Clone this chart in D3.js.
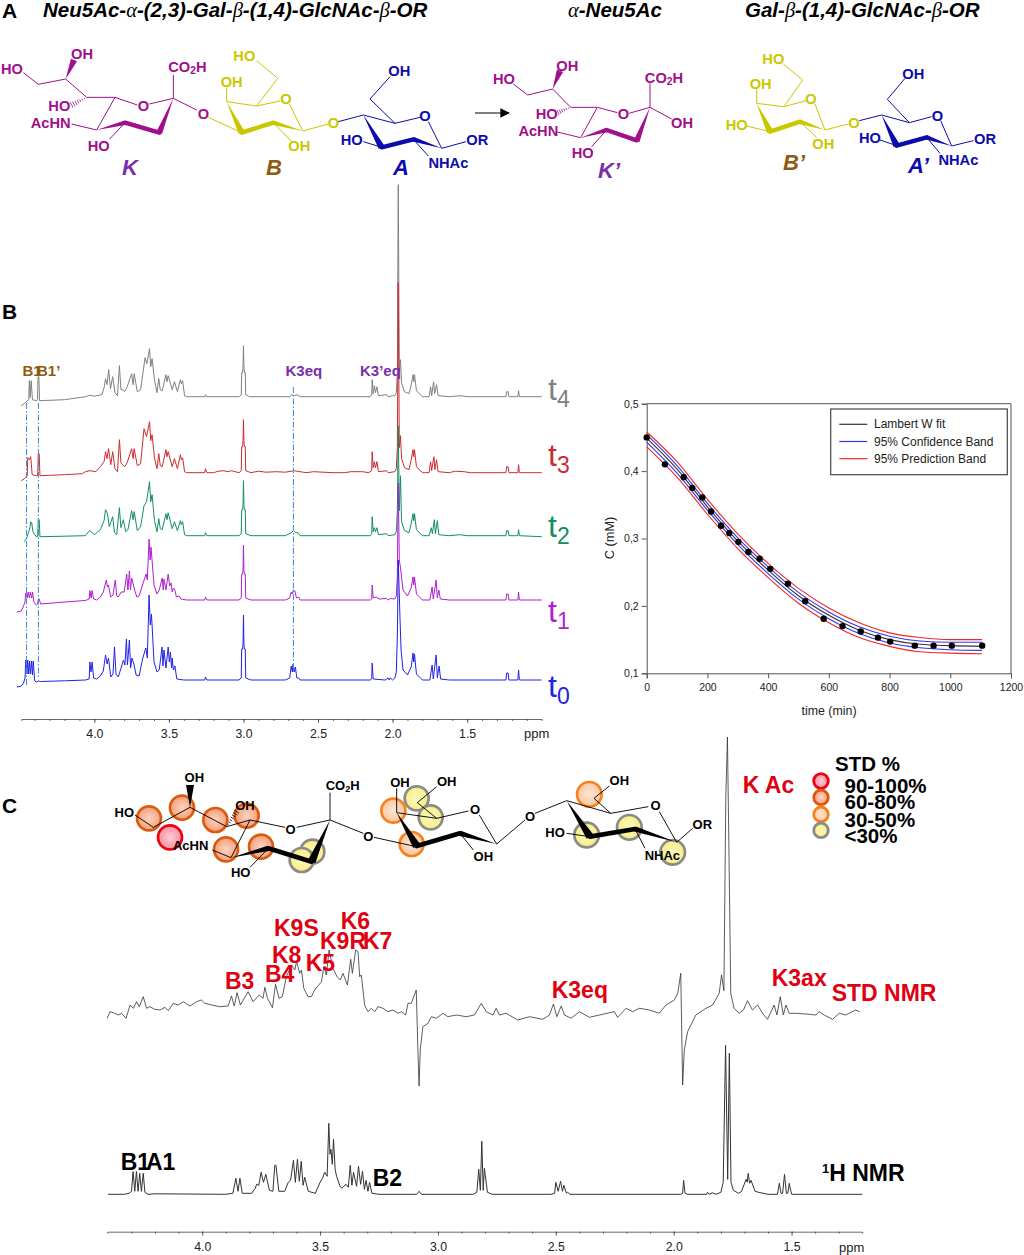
<!DOCTYPE html>
<html>
<head>
<meta charset="utf-8">
<style>
  body { margin: 0; background: #fff; }
  svg text { font-family: "Liberation Sans", Arial, sans-serif; }
</style>
<script src="https://cdn.jsdelivr.net/npm/d3@7"></script>
</head>
<body>
<svg id="fig" width="1024" height="1255"></svg>
<script>
// kinetics: measured points
var timeMin = [0,60,122,150,183,212,245,272,302,335,372,407,465,522,583,645,705,762,802,883,945,1005,1105];
var concMM = [.45,.41,.391,.375,.361,.34,.319,.308,.295,.28,.27,.255,.233,.207,.181,.17,.162,.153,.147,.141,.141,.141,.141];
// kinetics: fit and bands
var fitTime = [0,100,200,300,400,500,600,700,800,900,1000,1105];
var fitConc = [.449,.403,.347,.296,.253,.215,.186,.164,.150,.143,.141,.140];
var confHigh = [.454,.408,.352,.301,.258,.220,.191,.169,.155,.148,.146,.146];
var confLow = [.443,.397,.342,.291,.248,.210,.181,.159,.145,.138,.135,.134];
var predHigh = [.458,.414,.358,.307,.263,.226,.197,.175,.160,.153,.150,.150];
var predLow = [.436,.391,.336,.285,.242,.204,.175,.153,.140,.132,.130,.129];
var legendNames = ["Lambert W fit","95% Confidence Band","95% Prediction Band"];
var legendColors = ["#333","#3535f0","#f02828"];

// panel B spectra, [ppm, height]
var t4 = [[4.49,-9],[4.47,-7],[4.45,-4],[4.44,-3],[4.436,16],[4.431,-1],[4.424,16],[4.415,-3],[4.39,-4],[4.381,-3],[4.378,20],[4.372,20],[4.368,-4],[4.2,-3],[4.06,0],[4.03,1.5],[4.0,.5],[3.95,2],[3.935,9],[3.925,18],[3.915,12],[3.904,27],[3.892,8],[3.877,20],[3.862,4],[3.845,1],[3.832,31],[3.822,7],[3.81,7],[3.797,5],[3.78,10],[3.75,23],[3.74,12],[3.733,23],[3.712,5],[3.69,7],[3.66,39],[3.648,33],[3.63,48],[3.622,30],[3.613,38],[3.597,17],[3.58,4],[3.568,18],[3.558,7],[3.545,6],[3.52,22],[3.513,15],[3.505,21],[3.478,7],[3.463,15],[3.443,5],[3.423,17],[3.417,13],[3.408,16],[3.395,1],[3.38,0],[3.26,0],[3.255,2],[3.25,0],[3.03,0],[3.015,2],[3.012,24],[3.006,24],[3.003,30],[3,51],[2.997,30],[2.994,24],[2.988,24],[2.985,2],[2.96,0],[2.69,0],[2.675,2],[2.66,1],[2.64,2],[2.62,0],[2.15,0],[2.14,2],[2.137,17],[2.13,3],[2.122,11],[2.115,4],[2.105,10],[2.095,1],[2.04,2],[2.03,0],[2.0,1],[1.985,1],[1.975,4],[1.968,25],[1.962,212],[1.955,25],[1.947,37],[1.94,14],[1.92,5],[1.89,3],[1.875,12],[1.863,22],[1.858,15],[1.853,22],[1.84,6],[1.8,0],[1.755,0],[1.745,10],[1.738,1],[1.725,15],[1.718,3],[1.705,12],[1.695,1],[1.62,0],[1.54,1],[1.5,0],[1.24,0],[1.235,5],[1.225,5],[1.22,0],[1.16,0],[1.155,6],[1.15,0],[1.0,0]];
var t3 = [[4.49,-8],[4.47,-6],[4.45,-3],[4.447,15],[4.437,13],[4.427,16],[4.417,-2],[4.39,-3],[4.38,-3],[4.376,19],[4.37,19],[4.365,-3],[4.2,-2],[4.08,-1],[4.06,1],[4.03,2],[3.99,1],[3.96,6],[3.935,11],[3.925,21],[3.915,14],[3.905,24],[3.89,8],[3.877,21],[3.862,4],[3.845,1],[3.832,33],[3.822,10],[3.81,8],[3.797,6],[3.78,10],[3.75,24],[3.74,14],[3.733,24],[3.712,7],[3.69,9],[3.667,44],[3.65,36],[3.63,51],[3.622,32],[3.613,38],[3.597,15],[3.58,4],[3.568,19],[3.558,7],[3.545,6],[3.52,23],[3.513,16],[3.505,21],[3.478,6],[3.463,14],[3.443,4],[3.423,18],[3.417,13],[3.408,15],[3.395,1],[3.38,0],[3.26,0],[3.255,4],[3.245,0],[3.2,0],[3.17,1.5],[3.13,2],[3.11,1],[3.08,2],[3.03,0],[3.015,2],[3.012,26],[3.006,26],[3.003,32],[3,53],[2.997,32],[2.994,26],[2.988,26],[2.985,2],[2.95,0],[2.9,1.5],[2.85,.5],[2.78,1],[2.72,.5],[2.66,2],[2.62,1],[2.58,0],[2.53,1],[2.4,0],[2.32,0],[2.28,1],[2.2,1],[2.16,0],[2.14,2],[2.137,21],[2.13,5],[2.122,11],[2.115,5],[2.105,11],[2.095,1],[2.04,2],[2.03,0],[1.985,1],[1.975,4],[1.968,25],[1.962,190],[1.955,25],[1.947,37],[1.94,14],[1.92,5],[1.89,3],[1.875,13],[1.863,23],[1.858,16],[1.853,23],[1.84,6],[1.8,0],[1.755,0],[1.745,11],[1.738,2],[1.723,16],[1.716,3],[1.705,13],[1.695,1],[1.62,0],[1.58,1.5],[1.52,1],[1.48,0],[1.24,0],[1.235,6],[1.225,6],[1.22,0],[1.16,0],[1.155,8],[1.15,0],[1.0,0]];
var t2 = [[4.47,-6],[4.455,-3],[4.44,4],[4.43,9],[4.427,14],[4.42,13],[4.412,4],[4.39,-1],[4.38,-1],[4.376,16],[4.37,16],[4.365,-1],[4.2,-.5],[4.06,0],[4.033,5],[4.02,4],[4.0,1],[3.96,6],[3.935,15],[3.925,26],[3.912,22],[3.9,9],[3.877,19],[3.865,3],[3.85,1],[3.832,28],[3.822,8],[3.806,16],[3.79,4],[3.775,6],[3.75,25],[3.74,16],[3.733,24],[3.712,5],[3.69,9],[3.667,30],[3.65,34],[3.63,54],[3.622,34],[3.613,41],[3.597,15],[3.58,4],[3.568,17],[3.558,7],[3.545,6],[3.52,22],[3.513,16],[3.505,23],[3.478,7],[3.463,14],[3.443,5],[3.423,15],[3.417,11],[3.408,14],[3.395,1],[3.38,0],[3.26,0],[3.255,3],[3.245,0],[3.03,0],[3.015,2],[3.012,26],[3.006,26],[3.003,30],[3,55],[2.997,30],[2.994,26],[2.988,26],[2.985,2],[2.95,0],[2.72,0],[2.68,3],[2.665,5],[2.65,3],[2.635,3],[2.62,0],[2.15,0],[2.14,2],[2.137,19],[2.13,4],[2.122,8],[2.115,4],[2.105,8],[2.095,1],[2.04,2],[2.03,0],[1.985,1],[1.975,4],[1.968,25],[1.962,110],[1.955,25],[1.947,60],[1.94,14],[1.92,5],[1.89,3],[1.875,12],[1.863,22],[1.858,15],[1.853,22],[1.84,6],[1.8,0],[1.755,0],[1.74,8],[1.733,2],[1.72,16],[1.713,2],[1.7,15],[1.69,1],[1.62,0],[1.55,1],[1.5,0],[1.24,0],[1.235,5],[1.225,5],[1.22,0],[1.16,0],[1.155,6],[1.15,0],[1.0,-1]];
var t1 = [[4.52,-12],[4.49,-11],[4.475,-6],[4.465,-2],[4.46,7],[4.45,2],[4.445,8],[4.435,2],[4.43,8],[4.42,2],[4.415,8],[4.405,-2],[4.39,-5],[4.38,-4],[4.376,1],[4.37,1],[4.36,-4],[4.2,-2],[4.06,-.5],[4.035,1],[4.03,9.5],[4.022,2],[4.015,9.5],[4.005,1],[3.985,0],[3.96,3],[3.94,8],[3.92,20],[3.912,13],[3.906,15],[3.89,3],[3.875,5],[3.86,20],[3.85,4],[3.84,3],[3.82,8],[3.8,8],[3.783,26],[3.775,10],[3.765,29],[3.758,10],[3.75,22],[3.73,10],[3.715,3],[3.7,4],[3.675,16],[3.653,26],[3.645,20],[3.633,61],[3.626,40],[3.62,53],[3.6,15],[3.58,6],[3.565,10],[3.545,22],[3.538,10],[3.533,21],[3.52,10],[3.505,26],[3.495,14],[3.485,17],[3.478,8],[3.47,12],[3.46,10],[3.45,3],[3.43,4],[3.42,1],[3.38,0],[3.26,0],[3.255,3],[3.245,0],[3.03,0],[3.015,2],[3.012,26],[3.006,26],[3.003,30],[3,55],[2.997,30],[2.994,26],[2.988,26],[2.985,2],[2.95,0],[2.72,0],[2.69,2],[2.68,8],[2.672,6],[2.665,10],[2.655,9],[2.645,2],[2.63,3],[2.62,0],[2.15,0],[2.14,1],[2.137,15],[2.13,2],[2.11,3],[2.09,1],[2.04,1.5],[2.03,0],[2.015,1.5],[1.985,1],[1.975,4],[1.968,25],[1.962,117],[1.955,40],[1.945,30],[1.93,10],[1.9,4],[1.875,12],[1.863,23],[1.858,15],[1.853,23],[1.84,6],[1.8,0],[1.75,0],[1.735,13],[1.727,1],[1.708,20],[1.7,2],[1.69,10],[1.68,1],[1.62,0],[1.24,0],[1.235,6],[1.225,6],[1.22,0],[1.16,0],[1.155,8],[1.15,0],[1.0,0]];
var t0 = [[4.52,-7],[4.49,-6],[4.475,-3],[4.465,2],[4.46,20],[4.452,6],[4.447,20],[4.44,6],[4.435,19],[4.428,6],[4.422,19],[4.415,5],[4.41,19],[4.4,-1],[4.385,-2],[4.375,-1],[4.36,-1.5],[4.2,-.8],[4.06,0],[4.035,1],[4.03,18],[4.022,8],[4.015,18],[4.005,2],[3.985,1],[3.96,4],[3.94,9],[3.925,25],[3.915,16],[3.905,22],[3.89,3],[3.875,6],[3.865,33],[3.855,6],[3.84,3],[3.825,10],[3.805,20],[3.795,15],[3.785,41],[3.778,15],[3.765,40],[3.757,12],[3.748,22],[3.735,16],[3.72,5],[3.7,4],[3.675,22],[3.655,32],[3.645,22],[3.633,85],[3.625,55],[3.617,66],[3.6,18],[3.58,8],[3.565,10],[3.546,33],[3.54,14],[3.533,30],[3.52,12],[3.505,33],[3.497,18],[3.49,28],[3.482,12],[3.478,22],[3.47,10],[3.46,14],[3.447,1],[3.4,0],[3.26,0],[3.255,3],[3.245,0],[3.03,0],[3.015,2],[3.012,31],[3.006,31],[3.003,36],[3,65],[2.997,36],[2.994,31],[2.988,31],[2.985,2],[2.95,0],[2.72,0],[2.69,2],[2.68,14],[2.672,8],[2.668,16],[2.66,8],[2.652,13],[2.642,2],[2.63,2],[2.62,0],[2.15,0],[2.14,1],[2.137,17],[2.13,1],[2.05,0],[2.03,2],[2.022,0],[2.015,2],[2.0,0],[1.985,2],[1.975,8],[1.968,45],[1.962,120],[1.95,60],[1.943,30],[1.93,10],[1.9,5],[1.875,13],[1.863,27],[1.858,18],[1.853,26],[1.84,6],[1.8,0],[1.75,0],[1.735,15],[1.727,1],[1.708,25],[1.7,2],[1.688,14],[1.678,1],[1.62,0],[1.24,0],[1.235,7],[1.225,7],[1.22,0],[1.16,0],[1.155,10],[1.15,0],[1.0,0]];
var timeNames = ["t4","t3","t2","t1","t0"];

// panel C spectra, [ppm, height]
var stdNmr = [[4.403,1.7],[4.391,8.3],[4.37,6.7],[4.356,5],[4.342,6.7],[4.323,1.7],[4.306,15],[4.292,11.7],[4.278,18.3],[4.267,13.3],[4.25,23.3],[4.236,11.7],[4.222,13.3],[4.201,10.7],[4.179,10],[4.158,12.7],[4.144,9.3],[4.123,16.7],[4.102,15],[4.081,18.3],[4.052,14],[4.024,18.3],[4.003,20],[3.989,16.7],[3.96,15],[3.925,13.3],[3.89,14],[3.876,24],[3.864,14],[3.852,27.3],[3.838,15],[3.805,28.3],[3.784,18.3],[3.758,25],[3.742,21.7],[3.734,32.7],[3.723,21.7],[3.702,12.3],[3.689,35.7],[3.674,21.7],[3.66,23.3],[3.643,43.3],[3.621,55],[3.607,50],[3.6,58.3],[3.586,46.7],[3.579,50],[3.569,31.7],[3.551,23.3],[3.537,23.3],[3.523,30],[3.494,38.3],[3.484,53.3],[3.473,45],[3.462,70],[3.445,51.7],[3.428,43.3],[3.414,40],[3.403,46.7],[3.384,35],[3.37,60.7],[3.363,46.7],[3.349,70],[3.339,68.3],[3.332,43.3],[3.325,45],[3.311,15],[3.297,8.3],[3.282,11.7],[3.268,8.3],[3.254,13.3],[3.233,11.7],[3.212,8.3],[3.191,10],[3.169,6.7],[3.155,8.3],[3.137,5],[3.127,16.7],[3.113,16.7],[3.092,30],[3.085,-30],[3.08,-66],[3.075,-30],[3.064,-6.7],[3.042,-3.3],[3.028,3.3],[3.007,1.7],[2.979,6.7],[2.958,3.3],[2.922,5],[2.88,3.3],[2.845,5],[2.816,16.7],[2.795,8.3],[2.767,5],[2.753,11.7],[2.739,5],[2.711,6.7],[2.661,0],[2.612,3.3],[2.555,.7],[2.527,5],[2.51,16],[2.496,3.3],[2.477,14],[2.463,5],[2.435,1.7],[2.4,8.3],[2.358,2.7],[2.315,5],[2.252,8.3],[2.238,2.7],[2.202,11.7],[2.174,8.3],[2.146,11.7],[2.103,10],[2.061,6.7],[2.033,15],[1.997,20],[1.983,26.7],[1.97,46.7],[1.966,-10],[1.962,-65],[1.955,-30],[1.941,-11.7],[1.906,5],[1.863,11.7],[1.835,15],[1.807,26.7],[1.797,45],[1.787,29.3],[1.779,223],[1.772,283],[1.765,156.7],[1.758,26.7],[1.744,11.7],[1.722,6.7],[1.704,10],[1.687,19.3],[1.666,10],[1.644,15],[1.623,6.7],[1.602,.7],[1.574,15],[1.562,5],[1.548,23.3],[1.535,5],[1.524,15],[1.51,6.7],[1.482,6.7],[1.44,6],[1.397,5],[1.383,8.3],[1.362,5],[1.326,.7],[1.298,6.7],[1.27,5],[1.228,10],[1.211,8.3]];
var protonNmr = [[4.4,0],[4.33,0],[4.31,1],[4.3,3],[4.293,22.7],[4.286,3],[4.279,22.7],[4.272,3],[4.265,21],[4.258,3],[4.25,21],[4.243,2],[4.23,0],[4.2,.5],[3.9,0],[3.87,1],[3.857,16],[3.848,3],[3.84,16],[3.83,1],[3.79,1],[3.775,6],[3.769,10],[3.76,9],[3.75,22],[3.74,12],[3.73,20],[3.715,4],[3.7,3],[3.692,29],[3.687,29],[3.675,3],[3.65,3],[3.635,12],[3.625,14],[3.613,34],[3.605,12],[3.596,35],[3.588,13],[3.58,33],[3.572,9],[3.565,17],[3.55,3],[3.52,1],[3.5,12],[3.49,16],[3.48,22],[3.47,18],[3.463,71],[3.458,40],[3.454,45],[3.448,30],[3.443,55],[3.436,25],[3.43,18],[3.415,8],[3.408,6],[3.4,8],[3.39,10],[3.38,7],[3.372,29],[3.365,9],[3.358,22],[3.345,8],[3.337,28],[3.328,10],[3.32,23],[3.312,5],[3.305,14],[3.297,3],[3.29,12],[3.28,1],[3.25,0],[3.09,0],[3.08,3],[3.07,0],[2.85,0],[2.835,2],[2.827,25],[2.82,4],[2.814,53],[2.808,4],[2.803,26],[2.79,2],[2.77,0],[2.52,0],[2.505,1],[2.5,12],[2.49,3],[2.48,13],[2.472,3],[2.466,9],[2.455,1],[2.45,2],[2.44,0],[1.97,0],[1.962,1],[1.958,14],[1.952,1],[1.94,0],[1.86,0],[1.857,2],[1.85,0],[1.835,1.5],[1.82,0],[1.8,2],[1.79,12],[1.78,149],[1.771,15],[1.764,141],[1.757,12],[1.747,4],[1.725,1],[1.712,3],[1.693,15],[1.688,12],[1.684,21],[1.678,11],[1.672,14],[1.655,3],[1.64,2],[1.6,0],[1.56,0],[1.552,11],[1.545,1],[1.538,1],[1.53,20],[1.522,1],[1.516,1],[1.51,11],[1.5,0],[1.2,0]];

// STD legend
var stdClasses = ["90-100%","60-80%","30-50%","<30%"];
var stdStroke = ["#f00010","#d95a10","#f58220","#8a8a8a"];
var stdFill = ["#f590a0","#f5a078","#fbc8a0","#f8ee80"];

var svg = d3.select("#fig");
var defs = svg.append("defs");
stdFill.forEach(function(c, i) {
    var g = defs.append("radialGradient").attr("id", "std" + i);
    g.append("stop").attr("offset", "0%").attr("stop-color", d3.interpolateRgb(c, "#fff")(0.55));
    g.append("stop").attr("offset", "100%").attr("stop-color", c);
});

function label(x, y, str, size, color, opts) {
    opts = opts || {};
    return svg.append("text").attr("x", x).attr("y", y)
        .attr("font-size", size).attr("fill", color)
        .attr("font-weight", opts.weight || "bold")
        .attr("font-style", opts.style || "normal")
        .attr("text-anchor", opts.anchor || "start")
        .text(str);
}

// bold italic title, greek letters come out of the serif italic
function title(x, y, parts) {
    var t = svg.append("text").attr("x", x).attr("y", y).attr("font-size", 20.5);
    parts.forEach(function(p) {
        var greek = p === "α" || p === "β";
        t.append("tspan").text(p)
            .attr("font-style", "italic")
            .attr("font-weight", greek ? "normal" : "bold")
            .style("font-family", greek ? '"Liberation Serif", serif' : null);
    });
}

// ---------- chemical structures, drawn in 3x crop units
function mol(ox, oy, color, m, fontSize) {
    var fs = fontSize || 44;
    var g = svg.append("g").attr("transform", "translate(" + ox + "," + oy + ") scale(" + (1/3) + ")");
    (m.thin || []).forEach(function(b) {
        g.append("line").attr("x1", b[0]).attr("y1", b[1]).attr("x2", b[2]).attr("y2", b[3])
            .attr("stroke", color).attr("stroke-width", m.lw || 3);
    });
    (m.thick || []).forEach(function(b) {
        g.append("line").attr("x1", b[0]).attr("y1", b[1]).attr("x2", b[2]).attr("y2", b[3])
            .attr("stroke", color).attr("stroke-width", m.tw || 13).attr("stroke-linecap", "round");
    });
    // wedge: narrow at first point, wide at second
    (m.wedge || []).forEach(function(b) {
        var dx = b[2] - b[0], dy = b[3] - b[1], len = Math.sqrt(dx*dx + dy*dy),
            w = (b[4] || 15) / 2, nx = -dy / len * w, ny = dx / len * w;
        g.append("path").attr("fill", color)
            .attr("d", d3.line()([[b[0], b[1]], [b[2] + nx, b[3] + ny], [b[2] - nx, b[3] - ny]]) + "Z");
    });
    (m.hash || []).forEach(function(b) {
        for (var i = 1; i <= 7; i++) {
            var f = i / 7, px = b[0] + (b[2] - b[0]) * f, py = b[1] + (b[3] - b[1]) * f,
                dx = b[3] - b[1], dy = b[0] - b[2], len = Math.sqrt(dx*dx + dy*dy), w = 1 + f * 8;
            g.append("line").attr("x1", px + dx/len*w).attr("y1", py + dy/len*w)
                .attr("x2", px - dx/len*w).attr("y2", py - dy/len*w)
                .attr("stroke", color).attr("stroke-width", 2.4);
        }
    });
    (m.text || []).forEach(function(t) {
        var el = g.append("text").attr("x", t[0]).attr("y", t[1]).attr("dy", ".36em")
            .attr("text-anchor", "middle").attr("font-weight", "bold")
            .attr("font-size", fs).attr("fill", color);
        if (t[2] === "CO2H") {
            el.append("tspan").text("CO");
            el.append("tspan").text("2").attr("font-size", fs * 0.7).attr("dy", "6");
            el.append("tspan").text("H").attr("dy", "-6");
        } else el.text(t[2]);
    });
    return g;
}

var purple = "#a00f8c", yellow = "#c9c800", navy = "#0c0caa";

label(2, 18, "A", 21, "#000");
title(43, 17, ["Neu5Ac-","α","-(2,3)-Gal-","β","-(1,4)-GlcNAc-","β","-OR"]);
title(568, 17, ["α","-Neu5Ac"]);
title(745, 17, ["Gal-","β","-(1,4)-GlcNAc-","β","-OR"]);

mol(0, 0, purple, {
    thin: [[70,218,115,253],[115,253,197,237],[197,237,260,292],[260,292,345,292],[345,292,290,390],[345,292,412,315],[448,312,520,295],[520,295,520,225],[520,295,590,330],[215,372,290,390],[375,368,328,418]],
    thick: [[375,368,478,398]],
    wedge: [[197,237,222,180,20],[520,295,478,398,18],[290,390,375,368,14]],
    hash: [[260,292,215,315]],
    text: [[36,205,"HO"],[246,160,"OH"],[178,316,"HO"],[152,368,"AcHN"],[296,436,"HO"],[430,316,"O"],[562,200,"CO2H"],[610,342,"O"]]
});
mol(0, 0, yellow, {
    thin: [[625,352,725,398],[680,305,770,318],[770,318,840,303],[868,312,908,393],[770,318,833,235],[833,235,770,182],[680,305,680,262],[820,368,875,425],[908,393,985,372]],
    thick: [[725,398,820,368]],
    wedge: [[680,305,725,398,20],[908,393,820,368,14]],
    text: [[733,167,"HO"],[695,245,"OH"],[858,295,"O"],[898,437,"OH"],[1000,367,"O"]]
});
mol(0, 0, navy, {
    thin: [[1015,365,1090,345],[1090,345,1185,370],[1185,370,1260,352],[1285,365,1325,445],[1185,370,1110,297],[1110,297,1170,230],[1145,442,1090,425],[1325,445,1398,425],[1240,418,1285,468]],
    thick: [[1145,442,1240,418]],
    wedge: [[1090,345,1145,442,20],[1325,445,1240,418,14]],
    text: [[1198,213,"OH"],[1275,347,"O"],[1055,420,"HO"],[1432,420,"OR"],[1345,488,"NHAc"]]
});
// arrow
svg.append("defs").append("marker").attr("id", "ah").attr("viewBox", "0 0 10 10").attr("refX", 9).attr("refY", 5)
    .attr("markerWidth", 9).attr("markerHeight", 8).attr("orient", "auto")
    .append("path").attr("d", "M0,0L10,5L0,10Z").attr("fill", "#000");
svg.append("line").attr("x1", 475).attr("y1", 113).attr("x2", 509).attr("y2", 113)
    .attr("stroke", "#000").attr("stroke-width", 1.2).attr("marker-end", "url(#ah)");

mol(480, 0, purple, {
    thin: [[100,252,143,285],[143,285,218,267],[218,267,272,322],[272,322,352,322],[352,322,302,413],[352,322,412,338],[447,340,510,322],[510,322,510,250],[510,322,575,357],[232,396,302,413],[380,390,335,440]],
    thick: [[380,390,470,421]],
    wedge: [[218,267,240,212,20],[510,322,470,423,18],[302,413,380,390,14]],
    hash: [[272,322,228,340]],
    text: [[72,237,"HO"],[262,196,"OH"],[200,342,"HO"],[175,392,"AcHN"],[308,457,"HO"],[430,342,"O"],[552,232,"CO2H"],[606,367,"OH"]]
});
mol(480, 0, yellow, {
    thin: [[830,310,912,320],[912,320,978,302],[1005,312,1035,390],[912,320,968,240],[968,240,910,192],[830,310,830,268],[870,395,800,378],[960,365,1010,412],[1035,390,1105,372]],
    thick: [[870,395,960,365]],
    wedge: [[830,310,870,395,20],[1035,390,960,365,14]],
    text: [[880,176,"HO"],[842,250,"OH"],[993,296,"O"],[770,373,"HO"],[1030,430,"OH"],[1122,367,"O"]]
});
mol(480, 0, navy, {
    thin: [[1138,362,1205,345],[1205,345,1288,368],[1288,368,1355,350],[1382,362,1415,438],[1288,368,1222,298],[1222,298,1275,235],[1250,437,1200,420],[1415,438,1480,422],[1340,412,1380,460]],
    thick: [[1250,437,1340,412]],
    wedge: [[1205,345,1250,437,20],[1415,438,1340,412,14]],
    text: [[1300,220,"OH"],[1372,346,"O"],[1170,414,"HO"],[1515,415,"OR"],[1435,480,"NHAc"]]
});

var kColor = "#7b2fa8", bColor = "#8f5b12";
label(122, 175, "K", 22, kColor, {style: "italic"});
label(266, 175, "B", 22, bColor, {style: "italic"});
label(393, 175, "A", 22, navy, {style: "italic"});
label(598, 178, "K’", 22, kColor, {style: "italic"});
label(783, 170, "B’", 22, bColor, {style: "italic"});
label(908, 173, "A’", 22, navy, {style: "italic"});

// ---------- panel B, stacked spectra
label(2, 319, "B", 21, "#000");
var xB = d3.scaleLinear().domain([4.49, 1.0]).range([21.3, 541.7]);
var baselineB = {t4: 396.7, t3: 472.7, t2: 535.7, t1: 600, t0: 680};
var colorB = {t4: "#808080", t3: "#cc2a30", t2: "#118f60", t1: "#b01fd2", t0: "#2222e6"};
var seriesB = {t4: t4, t3: t3, t2: t2, t1: t1, t0: t0};

timeNames.forEach(function(name) {
    var y = d3.scaleLinear().domain([0, 300]).range([baselineB[name], baselineB[name] - 300]);
    var line = d3.line().x(function(d) { return xB(d[0]); }).y(function(d) { return y(d[1]); });
    svg.append("path").datum(seriesB[name]).attr("d", line)
        .attr("fill", "none").attr("stroke", colorB[name]).attr("stroke-width", 1);
});

var guides = [[4.455, 403, 687], [4.375, 403, 678], [2.665, 387, 668]];
guides.forEach(function(d) {
    svg.append("line").attr("x1", xB(d[0])).attr("x2", xB(d[0])).attr("y1", d[1]).attr("y2", d[2])
        .attr("stroke", "#4a90d9").attr("stroke-width", 1.1).attr("stroke-dasharray", "6,2,1.5,2");
});

var tLabelY = {t4: 400, t3: 466, t2: 537, t1: 622, t0: 697};
timeNames.forEach(function(name) {
    var t = svg.append("text").attr("x", 548).attr("y", tLabelY[name]).attr("font-size", 32).attr("fill", colorB[name]);
    t.append("tspan").text("t");
    t.append("tspan").text(name.charAt(1)).attr("font-size", 23).attr("dy", 7);
});

label(22.5, 376, "B1", 15, bColor);
label(37, 376, "B1’", 15, bColor);
label(285.5, 376, "K3eq", 15, kColor);
label(360, 376, "K3’eq", 15, kColor);

function ppmAxis(x, y, minorVals, majorVals) {
    svg.append("g").attr("transform", "translate(0," + y + ")")
        .call(d3.axisBottom(x).tickValues(minorVals).tickSize(2).tickFormat(""))
        .call(function(g) { g.selectAll("line,path").attr("stroke", "#444").attr("stroke-width", 0.8); });
    var a = svg.append("g").attr("transform", "translate(0," + y + ")")
        .call(d3.axisBottom(x).tickValues(majorVals).tickSize(4).tickPadding(6.5).tickFormat(d3.format(".1f")));
    a.select(".domain").remove();
    a.selectAll("line").attr("stroke", "#444").attr("stroke-width", 0.8);
    a.selectAll("text").attr("font-size", 12.3).attr("fill", "#222")
        .style("font-family", '"Liberation Sans", Arial, sans-serif');
}
var minorB = d3.range(11, 45).map(function(d) { return d / 10; });
var majorB = [4, 3.5, 3, 2.5, 2, 1.5];
ppmAxis(xB, 719, minorB, majorB);
label(524, 738, "ppm", 13, "#222", {weight: "normal"});

// ---------- kinetics plot
var x = d3.scaleLinear().domain([0, 1200]).range([646.7, 1011]);
var y = d3.scaleLinear().domain([0.1, 0.5]).range([673.3, 403.7]);
var comma = function(d) { return String(d).replace(".", ","); };

var xAxis = svg.append("g").attr("transform", "translate(0,673.3)")
    .call(d3.axisBottom(x).tickValues(d3.range(0, 1201, 200)).tickSize(5).tickPadding(5).tickFormat(d3.format("d")));
var yAxis = svg.append("g").attr("transform", "translate(646.7,0)")
    .call(d3.axisLeft(y).tickValues([0.1, 0.2, 0.3, 0.4, 0.5]).tickSize(5).tickPadding(3).tickFormat(comma));
[xAxis, yAxis].forEach(function(a) {
    a.selectAll("line,path").attr("stroke", "#555").attr("stroke-width", 1);
    a.selectAll("text").attr("font-size", 10.5).attr("fill", "#222")
        .style("font-family", '"Liberation Sans", Arial, sans-serif');
});
svg.append("path").attr("fill", "none").attr("stroke", "#555").attr("stroke-width", 1)
    .attr("d", d3.line()([[x(0), y(0.5)], [x(1200), y(0.5)], [x(1200), y(0.1)]]));

function band(vals, color) {
    var line = d3.line().curve(d3.curveMonotoneX)
        .x(function(d, i) { return x(fitTime[i]); })
        .y(function(d) { return y(d); });
    svg.append("path").datum(vals).attr("d", line).attr("fill", "none")
        .attr("stroke", color).attr("stroke-width", 1.1);
}
band(predHigh, legendColors[2]);
band(predLow, legendColors[2]);
band(confHigh, legendColors[1]);
band(confLow, legendColors[1]);
band(fitConc, legendColors[0]);

svg.selectAll(".pt").data(timeMin).enter().append("circle").attr("class", "pt")
    .attr("cx", function(d) { return x(d); })
    .attr("cy", function(d, i) { return y(concMM[i]); })
    .attr("r", 3.2).attr("fill", "#000");

svg.append("rect").attr("x", 830.7).attr("y", 409).attr("width", 176.6).attr("height", 65.7)
    .attr("fill", "#fff").attr("stroke", "#444").attr("stroke-width", 1.2);
legendNames.forEach(function(n, i) {
    var ly = 424.3 + i * 17.2;
    svg.append("line").attr("x1", 839.3).attr("x2", 867.3).attr("y1", ly).attr("y2", ly)
        .attr("stroke", legendColors[i]).attr("stroke-width", 1.2);
    label(874, ly + 4, n, 12, "#222", {weight: "normal"});
});
label(829, 715, "time (min)", 12.4, "#222", {weight: "normal", anchor: "middle"});
svg.append("text").attr("transform", "translate(614,538) rotate(-90)").attr("text-anchor", "middle")
    .attr("font-size", 12.8).attr("fill", "#222").text("C (mM)");

// ---------- panel C
label(2, 813, "C", 21, "#000");

var circleSpots = [
    [447,205,1],[546,173,1],[646,210,1],[740,197,1],[678,298,1],[783,290,1],
    [510,262,0],
    [937,305,3],[905,330,3],[1250,145,3],[1292,202,3],
    [1180,182,2],[1235,282,2]
];
var circG = svg.append("g").attr("transform", "scale(" + (1/3) + ") translate(0,2250)");
circleSpots.forEach(function(c) {
    circG.append("circle").attr("cx", c[0]).attr("cy", c[1]).attr("r", 36)
        .attr("fill", "url(#std" + c[2] + ")").attr("stroke", stdStroke[c[2]]).attr("stroke-width", 8);
});
var circleSpots2 = [[268,193,2],[260,315,3],[388,292,3],[518,367,3]];
var circG2 = svg.append("g").attr("transform", "translate(500,730) scale(" + (1/3) + ")");
circleSpots2.forEach(function(c) {
    circG2.append("circle").attr("cx", c[0]).attr("cy", c[1]).attr("r", 37)
        .attr("fill", "url(#std" + c[2] + ")").attr("stroke", stdStroke[c[2]]).attr("stroke-width", 8);
});

mol(0, 750, "#000", {
    lw: 2.8, tw: 14,
    thin: [[405,195,460,232],[460,232,570,172],[570,172,680,230],[680,230,750,210],[750,210,693,323],[750,210,855,232],[890,232,990,210],[990,210,990,128],[990,210,1090,250],[1122,262,1240,288],[637,300,693,323],[805,295,750,352],
           [1190,188,1310,205],[1310,205,1405,183],[1438,195,1490,282],[1310,205,1252,158],[1252,158,1310,110],[1190,188,1190,115],[1380,250,1420,300]],
    thick: [[805,295,935,335],[1250,288,1380,250]],
    wedge: [[570,172,570,105,24],[990,210,935,335,24],[693,323,805,295,16],[1190,188,1250,288,24],[1490,282,1380,250,16]],
    hash: [[680,230,710,185]],
    text: [[373,188,"HO"],[583,83,"OH"],[735,165,"OH"],[872,237,"O"],[1028,107,"CO2H"],[1105,258,"O"],[572,287,"AcHN"],[722,367,"HO"],[1200,97,"OH"],[1340,95,"OH"],[1425,178,"O"],[1450,318,"OH"]]
}, 39);
mol(500, 730, "#000", {
    lw: 2.8, tw: 14,
    thin: [[-10,342,75,270],[105,250,200,212],[200,212,332,250],[332,250,445,230],[478,245,530,337],[332,250,282,205],[282,205,328,168],[270,320,200,310],[530,337,578,295],[405,297,435,355]],
    thick: [[270,320,405,297]],
    wedge: [[200,212,270,320,24],[530,337,405,297,16]],
    text: [[90,258,"O"],[358,152,"OH"],[467,226,"O"],[165,306,"HO"],[607,282,"OR"],[487,375,"NHAc"]]
}, 39);

label(835, 770.7, "STD %", 20.5, "#000");
var legendY = [781, 797.3, 814.3, 830.3];
var legendTextY = [792.7, 809, 826.7, 843];
stdClasses.forEach(function(s, i) {
    svg.append("circle").attr("cx", 821).attr("cy", legendY[i]).attr("r", 7.3)
        .attr("fill", "url(#std" + i + ")").attr("stroke", stdStroke[i]).attr("stroke-width", 2.8);
    label(844.5, legendTextY[i], s, 20.5, "#000");
});

var xC = d3.scaleLinear().domain([4.4025, 1.2]).range([107.3, 862.3]);
var yStd = d3.scaleLinear().domain([0, 300]).range([1020, 720]);
var yProton = d3.scaleLinear().domain([0, 300]).range([1194.3, 894.3]);
function nmrLine(yS) {
    return d3.line().x(function(d) { return xC(d[0]); }).y(function(d) { return yS(d[1]); });
}
svg.append("path").datum(stdNmr).attr("d", nmrLine(yStd)).attr("fill", "none")
    .attr("stroke", "#333").attr("stroke-width", 0.8);
svg.append("path").datum(protonNmr).attr("d", nmrLine(yProton)).attr("fill", "none")
    .attr("stroke", "#333").attr("stroke-width", 1);

var red = "#e00012";
var redLabels = [["B3",225,989],["B4",265,982],["K8",272,963],["K9S",274,936],["K5",305.7,971],["K9R",320,949],["K6",340.7,929],["K7",363,949],["K3eq",551.7,997.7],["K3ax",771.7,985.7],["STD NMR",831.7,1000.7],["K Ac",742.7,793]];
redLabels.forEach(function(d) { label(d[1], d[2], d[0], 23, red); });

label(120.7, 1170, "B1", 23, "#000");
label(146, 1170, "A1", 23, "#000");
label(372.7, 1185.7, "B2", 23, "#000");
var hn = label(822, 1181, "", 23, "#000");
hn.append("tspan").text("1").attr("font-size", 13).attr("dy", -8);
hn.append("tspan").text("H NMR").attr("dy", 8);

var minorC = d3.range(13, 44).map(function(d) { return d / 10; });
ppmAxis(xC, 1231.7, minorC, [4, 3.5, 3, 2.5, 2, 1.5]);
label(839, 1251.7, "ppm", 13, "#222", {weight: "normal"});
</script>
</body>
</html>
